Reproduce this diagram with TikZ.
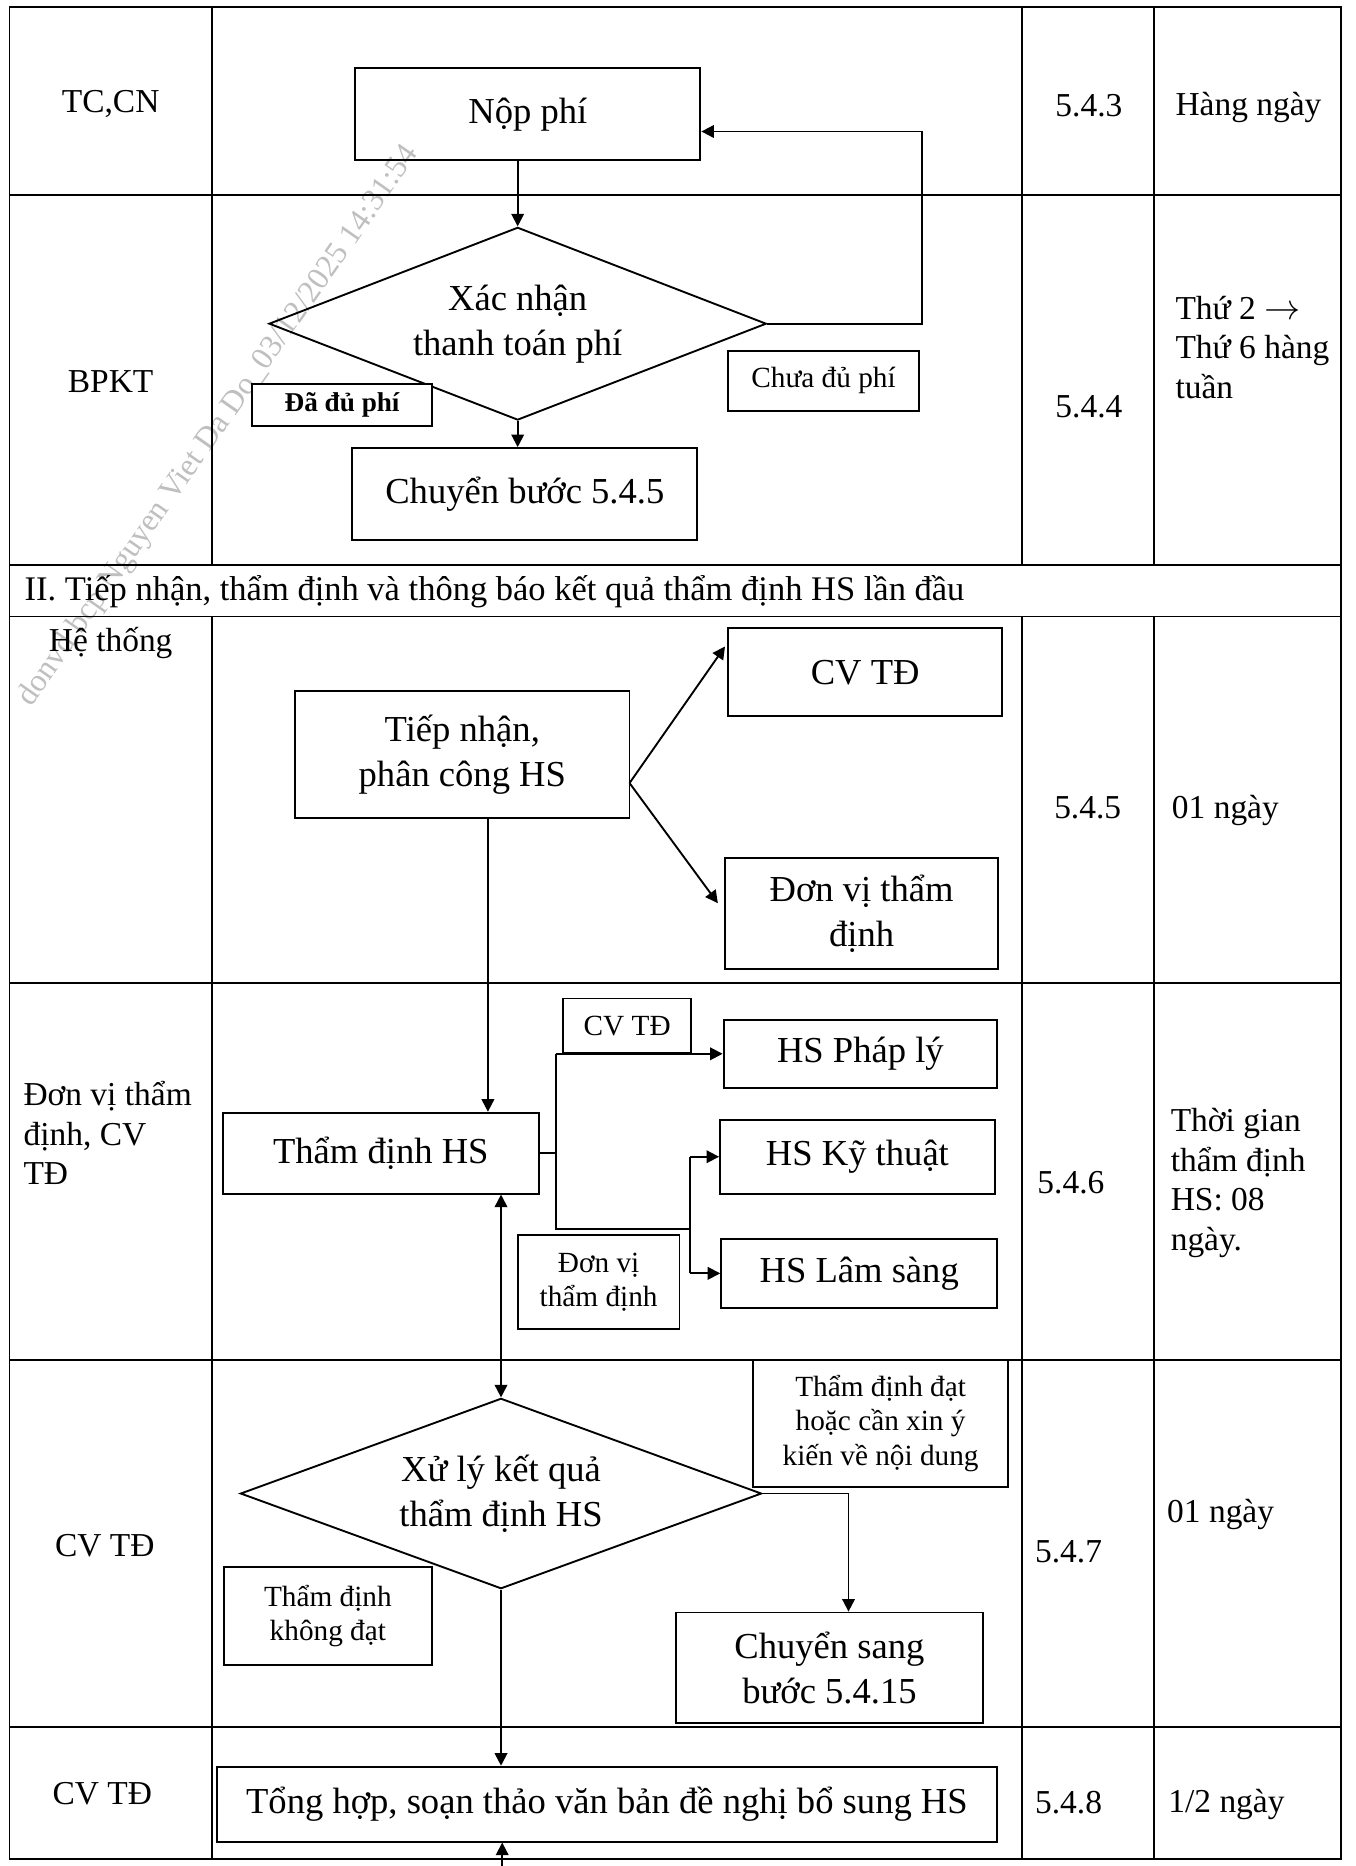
\documentclass[tikz,border=0pt]{standalone}
\usepackage{fontspec}
\setmainfont{Liberation Serif}
\usetikzlibrary{shapes.geometric,arrows.meta}

\begin{document}
\begin{tikzpicture}[x=0.02cm,y=-0.02cm,line width=0.9pt,
  box/.style={draw,inner sep=0pt,align=center,font=\fontsize{17.5}{21.5}\selectfont},
  tag/.style={draw,inner sep=0pt,align=center,fill=white,font=\fontsize{14}{16.5}\selectfont},
  decide/.style={draw,diamond,aspect=2.6,inner sep=0pt,align=center,font=\fontsize{17.5}{21.5}\selectfont},
  cell/.style={inner sep=0pt,align=left,font=\fontsize{16}{19}\selectfont},
  arr/.style={-{Triangle[length=6pt,width=6pt]}},
  arr2/.style={{Triangle[length=6pt,width=6pt]}-{Triangle[length=6pt,width=6pt]}}]
\useasboundingbox (0,0) rectangle (1139,1568);

% watermark
\node[rotate=55,text=black!25,font=\fontsize{15.2}{17}\selectfont] (mark) at (184,358) {donvd.bcp Nguyen Viet Da Do\_03/12/2025 14:31:54};

% table
\draw (8,6) rectangle (1127,1562);
\draw (8,164) -- (1127,164);
\draw (8,475) -- (1127,475);
\draw (8,518) -- (1127,518);
\draw (8,826) -- (1127,826);
\draw (8,1143) -- (1127,1143);
\draw (8,1451) -- (1127,1451);
\draw (178,6) -- (178,475) (178,518) -- (178,1562);
\draw (859,6) -- (859,475) (859,518) -- (859,1562);
\draw (970,6) -- (970,475) (970,518) -- (970,1562);

% cells
\node[cell] (r1) at (93,87) {TC,CN};
\node[cell] (r2) at (93,321) {BPKT};
\node[cell] (s1) at (915,89) {5.4.3};
\node[cell,anchor=west] (t1) at (987,90) {Hàng ngày};
\node[cell] (s2) at (915,342) {5.4.4};
\node[cell,anchor=west] (t2) at (987,292) {Thứ 2 \ensuremath{\rightarrow}\\Thứ 6 hàng\\tuần};
\node[cell,anchor=west,font=\fontsize{16.5}{19}\selectfont] (sec) at (20,497) {II. Tiếp nhận, thẩm định và thông báo kết quả thẩm định HS lần đầu};
\node[cell] (r3) at (93,540) {Hệ thống};
\node[cell] (s3) at (914,679) {5.4.5};
\node[cell,anchor=west] (t3) at (984,681) {01 ngày};
\node[cell,anchor=west] (r4) at (19,952) {Đơn vị thẩm\\định, CV\\TĐ};
\node[cell,anchor=west] (s4) at (871,994) {5.4.6};
\node[cell,anchor=west] (t4) at (983,994) {Thời gian\\thẩm định\\HS: 08\\ngày.};
\node[cell] (r5) at (88,1299) {CV TĐ};
\node[cell,anchor=west] (s5) at (869,1304) {5.4.7};
\node[cell,anchor=west] (t5) at (980,1273) {01 ngày};
\node[cell] (r6) at (86,1507) {CV TĐ};
\node[cell,anchor=west] (s6) at (869,1515) {5.4.8};
\node[cell,anchor=west] (t6) at (981,1516) {1/2 ngày};

% flow, part I
\node[box,minimum width=5.8cm,minimum height=1.54cm] (nop) at (443.6,96) {Nộp phí};
\node[decide,minimum width=8.36cm,minimum height=3.24cm] (xn) at (435,272) {Xác nhận\\thanh toán phí};
\node[tag,minimum width=3.2cm,minimum height=1.0cm] (chua) at (692,320) {Chưa đủ phí};
\node[tag,minimum width=3.02cm,minimum height=0.7cm,font=\fontsize{13}{16}\selectfont\bfseries] (du) at (287.5,340.5) {Đã đủ phí};
\node[box,minimum width=5.8cm,minimum height=1.54cm] (cb) at (441,415) {Chuyển bước 5.4.5};
\coordinate (fb) at (774.5,110.5);

\draw[arr] (nop.south -| xn.north) -- (xn.north);
\draw[arr] (xn.east) -| (fb) -- (fb -| nop.east);
\draw[arr] (xn.south) -- (cb.north -| xn.south);

% flow, part II
\node[box,minimum width=5.62cm,minimum height=2.12cm] (tn) at (388.5,634) {Tiếp nhận,\\phân công HS};
\node[box,minimum width=4.6cm,minimum height=1.48cm] (cvtd) at (727,565) {CV TĐ};
\node[box,minimum width=4.6cm,minimum height=1.86cm] (dvtd) at (724,767.5) {Đơn vị thẩm\\định};
\coordinate (fork) at (529,658);
\draw[arr] (fork) -- ([xshift=-0.04cm,yshift=-0.32cm]cvtd.north west);
\draw[arr] (fork) -- ([xshift=-0.1cm,yshift=0.17cm]dvtd.west);

\node[box,minimum width=5.32cm,minimum height=1.36cm] (tdhs) at (320,969) {Thẩm định HS};
\coordinate (down) at ([xshift=0.43cm]tn.south);
\draw[arr] (down) -- (down |- tdhs.north);

\node[box,minimum width=4.6cm,minimum height=1.14cm] (hspl) at (723,885.5) {HS Pháp lý};
\node[box,minimum width=4.62cm,minimum height=1.24cm] (hskt) at (720.5,972) {HS Kỹ thuật};
\node[box,minimum width=4.64cm,minimum height=1.16cm] (hsls) at (722,1070) {HS Lâm sàng};
\node[tag,minimum width=2.16cm,minimum height=0.92cm] (tagcv) at (527,862) {CV TĐ};
\node[tag,minimum width=2.72cm,minimum height=1.58cm] (tagdv) at (503,1077.5) {Đơn vị\\thẩm định};
\coordinate (b1) at (467,969);
\coordinate (b2) at (580,1033);
\draw (tdhs.east) -- (b1);
\draw (b1 |- hspl.west) -- (b1 |- b2) -- (b2);
\draw[arr] (b1 |- hspl.west) -- (hspl.west);
\draw (b2 |- hskt.west) -- (b2 |- hsls.west);
\draw[arr] (b2 |- hskt.west) -- (hskt.west);
\draw[arr] (b2 |- hsls.west) -- (hsls.west);

\node[decide,minimum width=8.76cm,minimum height=3.2cm] (xl) at (421,1255) {Xử lý kết quả\\thẩm định HS};
\draw[arr2] (tdhs.south -| xl.north) -- (xl.north);
\node[tag,minimum width=4.28cm,minimum height=2.14cm] (dat) at (740,1196) {Thẩm định đạt\\hoặc cần xin ý\\kiến về nội dung};
\node[tag,minimum width=3.5cm,minimum height=1.64cm] (kdat) at (275.5,1358) {Thẩm định\\không đạt};
\node[box,minimum width=5.16cm,minimum height=1.86cm] (chuyen) at (697,1401.5) {Chuyển sang\\bước 5.4.15};
\coordinate (d1) at (713,1255);
\draw[arr] (xl.east) -- (d1) -- (d1 |- chuyen.north);

\node[box,minimum width=13.12cm,minimum height=1.26cm] (th) at (510,1516) {Tổng hợp, soạn thảo văn bản đề nghị bổ sung HS};
\draw[arr] (xl.south) -- (xl.south |- th.north);
\coordinate (cont) at (422,1568);
\draw[arr] (cont) -- (cont |- th.south);
\end{tikzpicture}
\end{document}
